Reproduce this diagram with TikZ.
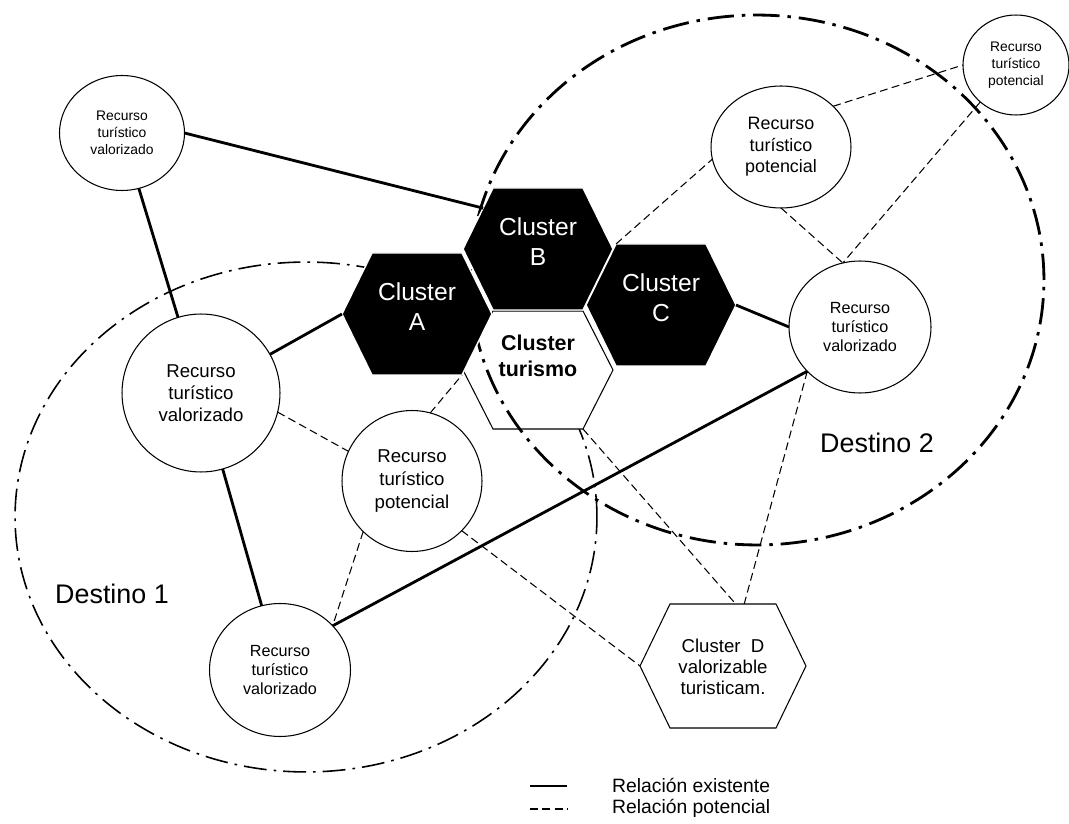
\documentclass[tikz,border=0pt]{standalone}
\usepackage{fontspec}
\setmainfont{Liberation Sans}
\usepackage{tikz}
\usetikzlibrary{calc,shapes.geometric}

\tikzset{
  pics/hexa/.style args={#1/#2/#3}{code={
    \path[pic actions] (-#1,0) coordinate (-w) -- (-#2,-#3) coordinate (-nw)
      -- (#2,-#3) coordinate (-ne) -- (#1,0) coordinate (-e)
      -- (#2,#3) coordinate (-se) -- (-#2,#3) coordinate (-sw) -- cycle;
  }}
}

\begin{document}
\begin{tikzpicture}[x=0.02cm, y=-0.02cm,
    recurso/.style={ellipse, draw, fill=white, line width=0.6pt, inner sep=0pt,
      outer sep=0pt, align=center},
    existente/.style={line width=1.6pt},
    potencial/.style={line width=0.6pt, dash pattern=on 4.5pt off 2.5pt},
    destinoA/.style={line width=0.9pt, dash pattern=on 13pt off 4pt on 1.5pt off 4pt},
    destinoB/.style={line width=1.6pt, dash pattern=on 15pt off 4.5pt on 2pt off 4.5pt},
    blackhex/.style={fill=black, draw=white, line width=0.8pt},
    whitehex/.style={fill=white, draw=black, line width=0.6pt},
    cltext/.style={align=center, text=white, font=\fontsize{14}{17}\selectfont},
    legtext/.style={anchor=west, font=\fontsize{11}{13}\selectfont}]
  \useasboundingbox (0,0) rectangle (1069,824);

  % destinos y clusters
  \draw[destinoA] (306,517) ellipse [x radius=5.82cm, y radius=5.1cm];
  \pic[whitehex] (hexT) at (538,370) {hexa=75/45/59};
  \draw[destinoB] (757,280) ellipse [x radius=5.74cm, y radius=5.3cm];
  \pic[blackhex] (hexA) at (417,314) {hexa=75/45/61};
  \pic[blackhex] (hexB) at (538,249) {hexa=75/45/61};
  \pic[blackhex] (hexC) at (661,305) {hexa=75/45/61};
  \pic[whitehex] (hexD) at (723,666) {hexa=83/53/62};

  \node[cltext] (A) at (417,307) {Cluster\\A};
  \node[cltext] (B) at (538,242) {Cluster\\B};
  \node[cltext] (C) at (661,298) {Cluster\\C};
  \node[align=center, font=\fontsize{12.2}{14.5}\selectfont\bfseries] (T) at (538,356) {Cluster\\turismo};
  \node[align=center, font=\fontsize{10.6}{12}\selectfont] (D) at (723,667) {Cluster\ \ D\\valorizable\\turisticam.};

  % recursos
  \node[recurso, minimum width=2.5cm, minimum height=2.3cm, font=\fontsize{7.9}{9.7}\selectfont]
    (TL) at (122,133) {Recurso\\turístico\\valorizado};
  \node[recurso, minimum width=3.16cm, minimum height=3.16cm, font=\fontsize{10.6}{12.6}\selectfont]
    (L) at (201,393) {Recurso\\turístico\\valorizado};
  \node[recurso, minimum width=2.8cm, minimum height=2.82cm, font=\fontsize{10.6}{13}\selectfont]
    (P) at (412,481) {Recurso\\turístico\\potencial};
  \node[recurso, minimum width=2.82cm, minimum height=2.66cm, font=\fontsize{9.2}{10.8}\selectfont]
    (BL) at (280,670) {Recurso\\turístico\\valorizado};
  \node[recurso, minimum width=2.8cm, minimum height=2.44cm, font=\fontsize{10.2}{12.3}\selectfont]
    (P2) at (781,147) {Recurso\\turístico\\potencial};
  \node[recurso, minimum width=2.12cm, minimum height=2cm, font=\fontsize{7.9}{9.5}\selectfont]
    (TR) at (1016,65) {Recurso\\turístico\\potencial};
  \node[recurso, minimum width=2.84cm, minimum height=2.64cm, font=\fontsize{9.2}{11}\selectfont]
    (R) at (860,327) {Recurso\\turístico\\valorizado};

  \node[font=\fontsize{15.3}{18}\selectfont] (D1) at (112,594) {Destino 1};
  \node[font=\fontsize{15.3}{18}\selectfont] (D2) at (877,443) {Destino 2};

  % relaciones existentes
  \draw[existente] (TL.east) -- ($(hexB-w)!.67!(hexB-nw)$);
  \draw[existente] (TL) -- (L);
  \draw[existente] (L) -- (hexA-w);
  \draw[existente] (L) -- (BL);
  \draw[existente] (BL.40) -- (R.220);
  \draw[existente] (hexC-e) -- (R.west);

  % relaciones potenciales
  \draw[potencial] (L.-14) -- (P.155);
  \draw[potencial] (P.75) -- (hexA-se);
  \draw[potencial] (P.226) -- (BL.40);
  \draw[potencial] (P.-45) -- (hexD-w);
  \draw[potencial] (hexT-se) -- ($(hexD-nw)!.62!(hexD-ne)$);
  \draw[potencial] (R.220) -- ($(hexD-nw)!.7!(hexD-ne)$);
  \draw[potencial] (hexC-nw) -- (P2.190);
  \draw[potencial] (P2.38) -- (TR.west);
  \draw[potencial] (P2.south) -- (R.105);
  \draw[potencial] (TR.226) -- (R.105);

  % leyenda
  \coordinate (le1) at (530,786);
  \coordinate (le2) at (567,786);
  \coordinate (lp1) at (530,809);
  \coordinate (lp2) at (567,809);
  \draw[existente] (le1) -- (le2);
  \draw[potencial] (lp1) -- (lp2);
  \node[legtext] (lt1) at (606,785) {Relación existente};
  \node[legtext] (lt2) at (606,808) {Relación potencial};
\end{tikzpicture}
\end{document}
